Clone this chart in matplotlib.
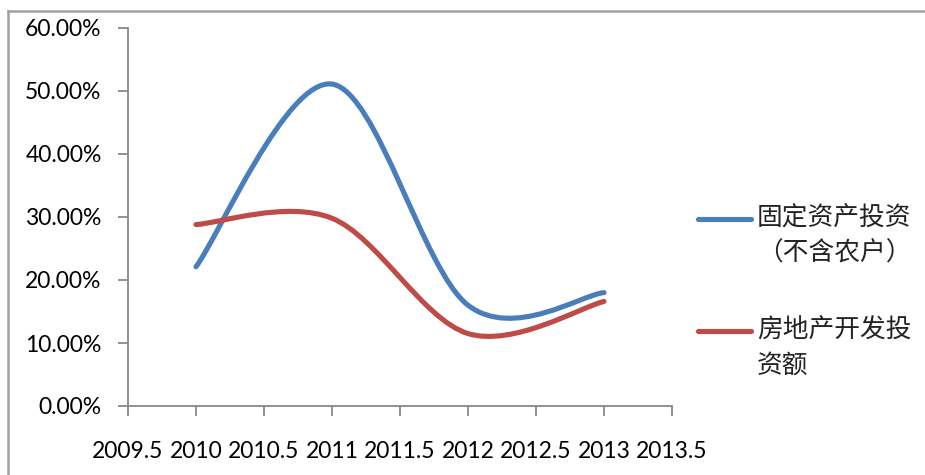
import matplotlib
matplotlib.use("Agg")
import matplotlib.pyplot as plt
from matplotlib.path import Path
from matplotlib.patches import PathPatch
from matplotlib.lines import Line2D
from matplotlib.ticker import FuncFormatter, MultipleLocator

# ---- data ----
years = [2010, 2011, 2012, 2013]
fixed_invest = [22.1, 51.1, 16.0, 18.0]      # 固定资产投资（不含农户）, %
realestate_invest = [28.8, 29.8, 11.5, 16.6]  # 房地产开发投资额, %
series_names = ["固定资产投资\n（不含农户）", "房地产开发投\n资额"]
colors = ["#4A7EBB", "#BE4B48"]
x_ticks = [2009.5, 2010, 2010.5, 2011, 2011.5, 2012, 2012.5, 2013, 2013.5]

plt.rcParams['font.family'] = ['Lato', 'Noto Sans CJK SC', 'DejaVu Sans']

W, H = 925, 475
fig = plt.figure(figsize=(W / 100, H / 100), dpi=100)
ax = fig.add_axes([128 / W, 1 - 406 / H, (672 - 128) / W, (406 - 28) / H])


def smooth_path(xs, ys):
    """Excel-style smoothed line: cubic Bezier segments (Catmull-Rom tangents)."""
    n = len(xs)
    verts = [(xs[0], ys[0])]
    codes = [Path.MOVETO]
    for i in range(n - 1):
        i0 = max(i - 1, 0)
        i3 = min(i + 2, n - 1)
        c1 = (xs[i] + (xs[i + 1] - xs[i0]) / 6, ys[i] + (ys[i + 1] - ys[i0]) / 6)
        c2 = (xs[i + 1] - (xs[i3] - xs[i]) / 6, ys[i + 1] - (ys[i3] - ys[i]) / 6)
        verts += [c1, c2, (xs[i + 1], ys[i + 1])]
        codes += [Path.CURVE4] * 3
    return Path(verts, codes)


for vals, col in zip([fixed_invest, realestate_invest], colors):
    p = PathPatch(smooth_path(years, [v / 100 for v in vals]), facecolor='none',
                  edgecolor=col, lw=3.7, capstyle='round', joinstyle='round')
    ax.add_patch(p)

ax.set_xlim(2009.5, 2013.5)
ax.set_ylim(0, 0.6)
ax.set_xticks(x_ticks)
ax.set_xticklabels([f"{t:g}" for t in x_ticks])
ax.yaxis.set_major_locator(MultipleLocator(0.1))
ax.yaxis.set_major_formatter(FuncFormatter(lambda v, _: f"{v * 100:.2f}%"))

for s in ['top', 'right']:
    ax.spines[s].set_visible(False)
for s in ['left', 'bottom']:
    ax.spines[s].set_color('#888888')
    ax.spines[s].set_linewidth(1.3)
ax.tick_params(axis='both', direction='out', length=7, width=1.3, color='#888888',
               labelsize=16.5, labelcolor='black')
ax.tick_params(axis='y', pad=12)
ax.tick_params(axis='x', pad=18)

# outer chart border (top and left visible)
fig.add_artist(Line2D([8 / W, 8 / W], [0, 1 - 11 / H], transform=fig.transFigure,
                      color='#A0A0A0', lw=1.8))
fig.add_artist(Line2D([8 / W, 1], [1 - 11 / H, 1 - 11 / H], transform=fig.transFigure,
                      color='#A0A0A0', lw=1.8))

# legend
leg_y = [219, 331]
for name, col, yy in zip(series_names, colors, leg_y):
    fig.add_artist(Line2D([698 / W, 751 / W], [1 - yy / H, 1 - yy / H],
                          transform=fig.transFigure, color=col, lw=3.7,
                          solid_capstyle='round'))
    for k, line in enumerate(name.split("\n")):
        fig.text(757 / W, 1 - (yy + 35 * k) / H, line, ha='left', va='center',
                 fontsize=18.5, family=['Noto Sans CJK SC', 'DejaVu Sans'],
                 color='#222222')

fig.savefig("out.png", dpi=100)
